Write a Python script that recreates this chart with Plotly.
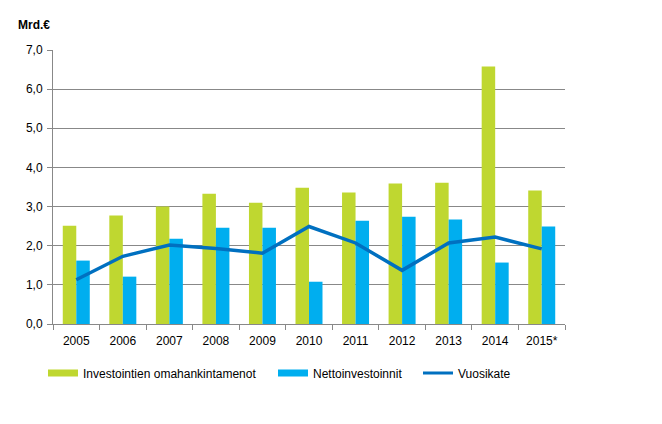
import plotly.graph_objects as go

years = ["2005", "2006", "2007", "2008", "2009", "2010", "2011", "2012", "2013", "2014", "2015*"]
omahankinta = [2.51, 2.77, 3.00, 3.33, 3.10, 3.48, 3.36, 3.59, 3.61, 6.58, 3.41]
nettoinv = [1.62, 1.21, 2.18, 2.46, 2.46, 1.08, 2.64, 2.74, 2.67, 1.57, 2.49]
vuosikate = [1.13, 1.73, 2.02, 1.93, 1.81, 2.49, 2.07, 1.37, 2.07, 2.22, 1.92]

font = "Liberation Sans, Arial, sans-serif"
green, blue, dark = "#BFD730", "#00AEEF", "#0070C0"

fig = go.Figure()
fig.add_trace(go.Bar(x=years, y=omahankinta, name="Investointien omahankintamenot",
                     marker=dict(color=green, line=dict(width=0)), showlegend=False))
fig.add_trace(go.Bar(x=years, y=nettoinv, name="Nettoinvestoinnit",
                     marker=dict(color=blue, line=dict(width=0)), showlegend=False))
fig.add_trace(go.Scatter(x=years, y=vuosikate, name="Vuosikate", mode="lines",
                         line=dict(color=dark, width=3.5), showlegend=False))

# legend entries as wide swatches, one legend each so they sit where the original has them
for name, col, w, lg in [("Investointien omahankintamenot", green, 7, "legend"),
                         ("Nettoinvestoinnit", blue, 7, "legend2"),
                         ("Vuosikate", dark, 3, "legend3")]:
    fig.add_trace(go.Scatter(x=[None], y=[None], mode="lines", name=name,
                             line=dict(color=col, width=w), legend=lg))

# plot area: 53..565 x 50..324 in the picture (page adds 8px body margin)
L, T, PW, PH = 45, 42, 512, 274


def lx(px):
    return (px - 8 - L) / PW


def ly(py):
    return 1 - (py - 8 - T) / PH


leg = dict(orientation="h", xanchor="left", yanchor="middle", y=ly(373),
           font=dict(size=12), bgcolor="rgba(0,0,0,0)", itemwidth=30)

fig.update_layout(
    width=662, height=424,
    margin=dict(l=L, r=662 - L - PW, t=T, b=424 - T - PH),
    paper_bgcolor="white", plot_bgcolor="white",
    font=dict(family=font, size=12, color="black"),
    barmode="group", bargap=0.42, bargroupgap=0,
    separators=",.",
    legend=dict(leg, x=lx(43)),
    legend2=dict(leg, x=lx(273)),
    legend3=dict(leg, x=lx(418)),
    annotations=[dict(text="<b>Mrd.€</b>", xref="paper", yref="paper",
                      x=lx(16), y=ly(25), xanchor="left", yanchor="middle",
                      showarrow=False, font=dict(size=12))],
)

fig.update_yaxes(range=[0, 7], dtick=1, tickformat=".1f",
                 showgrid=True, gridcolor="#888888", gridwidth=1,
                 showline=True, linecolor="#888888", linewidth=1,
                 ticks="outside", ticklen=5, tickcolor="#888888", zeroline=False,
                 ticklabelstandoff=2)
fig.update_xaxes(showline=True, linecolor="#888888", linewidth=1,
                 ticks="outside", ticklen=5, tickcolor="#888888",
                 tickson="boundaries", showgrid=False, ticklabelstandoff=6)

fig.write_html("out.html")
